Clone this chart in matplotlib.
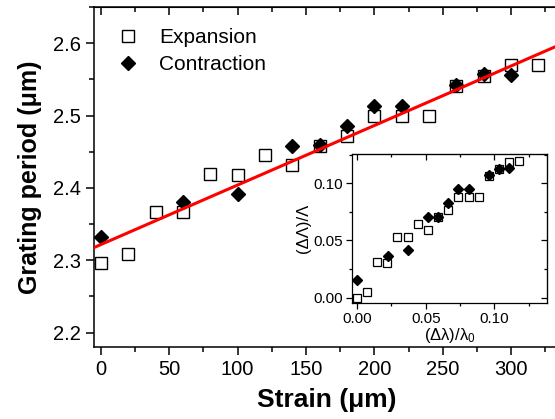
import numpy as np
import matplotlib
matplotlib.use('Agg')
import matplotlib.pyplot as plt
from matplotlib.ticker import MultipleLocator, NullFormatter

plt.rcParams['font.family'] = ['Liberation Sans', 'DejaVu Sans']
plt.rcParams['mathtext.fontset'] = 'custom'
plt.rcParams['mathtext.rm'] = 'Liberation Sans'
plt.rcParams['mathtext.it'] = 'Liberation Sans'

# Periodo de la rejilla frente a la deformacion
strain_exp = [0, 20, 40, 60, 80, 100, 120, 140, 160, 180, 200, 220, 240, 260, 280, 300, 320]
period_exp = [2.296, 2.308, 2.367, 2.367, 2.419, 2.418, 2.445, 2.432, 2.458,
              2.471, 2.499, 2.499, 2.499, 2.541, 2.555, 2.570, 2.570]

strain_con = [0, 60, 100, 140, 160, 180, 200, 220, 260, 280, 300]
period_con = [2.332, 2.380, 2.392, 2.458, 2.459, 2.485, 2.513, 2.513, 2.542, 2.557, 2.556]

# Ajuste lineal (rojo)
fit_a = 2.3216
fit_b = 0.000823

# Inserto: cambios relativos
rel_lam_exp = [0, 0.0069, 0.0146, 0.0219, 0.0292, 0.0368, 0.0441, 0.0516, 0.059,
               0.0664, 0.0737, 0.0815, 0.0888, 0.0961, 0.1034, 0.1107, 0.118]
rel_per_exp = [0.0, 0.0049, 0.0312, 0.0307, 0.0532, 0.0526, 0.0646, 0.0588, 0.0706,
               0.0766, 0.0883, 0.0883, 0.0883, 0.1067, 0.1128, 0.119, 0.1196]
rel_lam_con = [0, 0.0222, 0.0368, 0.0516, 0.059, 0.0664, 0.0737, 0.0815, 0.0961, 0.1034, 0.1107]
rel_per_con = [0.0152, 0.0362, 0.0415, 0.0705, 0.0705, 0.0824, 0.0947, 0.0947, 0.1073, 0.1125, 0.1134]

fig = plt.figure(figsize=(5.55, 4.19), dpi=100)
ax = fig.add_axes([94 / 555, 72 / 419, 465 / 555, 340 / 419])

ax.plot(strain_exp, period_exp, 's', ms=8, mfc='white', mec='black', mew=1.0,
        label='Expansion', zorder=3)
ax.plot(strain_con, period_con, 'D', ms=7.5, mfc='black', mec='black',
        label='Contraction', zorder=4)
xs = np.array([-5, 340])
ax.plot(xs, fit_a + fit_b * xs, color='red', lw=2.2, zorder=5)

ax.set_xlim(-5, 335)
ax.set_ylim(2.18, 2.65)
ax.xaxis.set_major_locator(MultipleLocator(50))
ax.xaxis.set_minor_locator(MultipleLocator(25))
ax.yaxis.set_major_locator(MultipleLocator(0.1))
ax.yaxis.set_minor_locator(MultipleLocator(0.05))
ax.tick_params(which='both', direction='out', width=1.1, labelsize=14.5)
ax.tick_params(which='major', length=6)
ax.tick_params(which='minor', length=3.5)
for s in ax.spines.values():
    s.set_linewidth(1.1)

# ticks hacia dentro arriba
top = ax.secondary_xaxis('top')
top.xaxis.set_major_locator(MultipleLocator(50))
top.xaxis.set_minor_locator(MultipleLocator(25))
top.tick_params(which='both', direction='in', width=1.1, labeltop=False)
top.tick_params(which='major', length=6)
top.tick_params(which='minor', length=3.5)
top.xaxis.set_major_formatter(NullFormatter())

ax.set_xlabel('Strain (\u03bcm)', fontsize=19, fontweight='bold', labelpad=6)
ax.set_ylabel('Grating period (\u03bcm)', fontsize=18, fontweight='bold', labelpad=8)

ax.legend(loc='upper left', bbox_to_anchor=(0.033, 0.963), frameon=False,
          fontsize=15, numpoints=1, handlelength=1.0, handletextpad=1.0,
          labelspacing=0.4, borderaxespad=0)

# Inserto
ins = fig.add_axes([351.7 / 555, 115.7 / 419, 195.6 / 555, 149 / 419])
ins.plot(rel_lam_exp, rel_per_exp, 's', ms=5.5, mfc='white', mec='black', mew=0.9, zorder=3)
ins.plot(rel_lam_con, rel_per_con, 'D', ms=5.2, mfc='black', mec='black', zorder=4)
ins.set_xlim(-0.004, 0.1387)
ins.set_ylim(-0.005, 0.1254)
ins.xaxis.set_major_locator(MultipleLocator(0.05))
ins.xaxis.set_minor_locator(MultipleLocator(0.025))
ins.yaxis.set_major_locator(MultipleLocator(0.05))
ins.yaxis.set_minor_locator(MultipleLocator(0.025))
ins.xaxis.set_major_formatter(plt.FormatStrFormatter('%.2f'))
ins.yaxis.set_major_formatter(plt.FormatStrFormatter('%.2f'))
ins.tick_params(which='both', direction='out', width=0.9, labelsize=11, pad=2)
ins.tick_params(which='major', length=4)
ins.tick_params(which='minor', length=2.5)
for s in ins.spines.values():
    s.set_linewidth(0.9)

# ticks hacia dentro arriba y a la derecha del inserto
ins_top = ins.secondary_xaxis('top')
ins_right = ins.secondary_yaxis('right')
for axis, sec in ((ins_top.xaxis, ins_top), (ins_right.yaxis, ins_right)):
    axis.set_major_locator(MultipleLocator(0.05))
    axis.set_minor_locator(MultipleLocator(0.025))
    axis.set_major_formatter(NullFormatter())
    sec.tick_params(which='both', direction='in', width=0.9)
    sec.tick_params(which='major', length=4)
    sec.tick_params(which='minor', length=2.5)

ins.set_xlabel('(\u0394\u03bb)/\u03bb$_0$', fontsize=12, labelpad=0)
ins.set_ylabel('(\u0394\u039b)/\u039b', fontsize=12, labelpad=2)

fig.savefig('out.png', dpi=100)
